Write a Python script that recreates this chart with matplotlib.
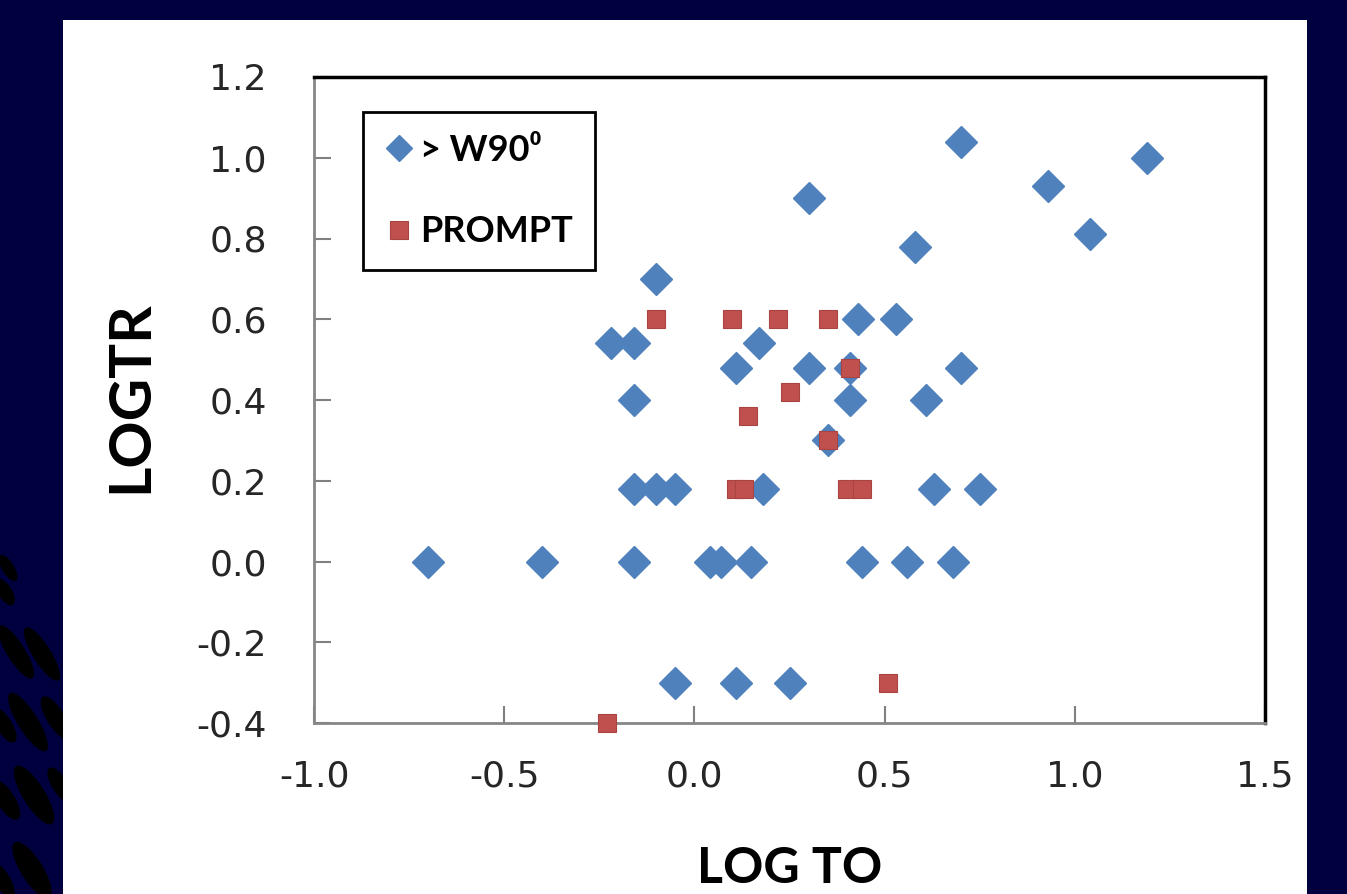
import numpy as np
import matplotlib
matplotlib.use("Agg")
from matplotlib import pyplot as plt
from matplotlib.patches import Rectangle, Ellipse
from matplotlib.font_manager import FontProperties
from matplotlib.ticker import FormatStrFormatter

# "> W90" series (blue diamonds)
w90_x = [0.70, 1.19, 0.93, 0.30, 1.04, 0.58, -0.10,
         0.43, 0.53,
         -0.22, -0.16, 0.17,
         0.11, 0.30, 0.41, 0.70,
         -0.16, 0.41, 0.61,
         0.35,
         -0.16, -0.10, -0.05, 0.18, 0.63, 0.75,
         -0.70, -0.40, -0.16, 0.04, 0.07, 0.15, 0.44, 0.56, 0.68,
         -0.05, 0.11, 0.25]
w90_y = [1.04, 1.00, 0.93, 0.90, 0.81, 0.78, 0.70,
         0.60, 0.60,
         0.54, 0.54, 0.54,
         0.48, 0.48, 0.48, 0.48,
         0.40, 0.40, 0.40,
         0.30,
         0.18, 0.18, 0.18, 0.18, 0.18, 0.18,
         0.00, 0.00, 0.00, 0.00, 0.00, 0.00, 0.00, 0.00, 0.00,
         -0.30, -0.30, -0.30]

# PROMPT series (red squares)
prompt_x = [-0.10, 0.10, 0.22, 0.35, 0.41, 0.25, 0.14, 0.35,
            0.11, 0.13, 0.40, 0.44, 0.51, -0.23]
prompt_y = [0.60, 0.60, 0.60, 0.60, 0.48, 0.42, 0.36, 0.30,
            0.18, 0.18, 0.18, 0.18, -0.30, -0.40]

x_ticks = [-1.0, -0.5, 0.0, 0.5, 1.0, 1.5]
y_ticks = [-0.4, -0.2, 0.0, 0.2, 0.4, 0.6, 0.8, 1.0, 1.2]

plt.rcParams['axes.unicode_minus'] = False

W, H = 1347, 894
navy = '#00003E'
fig = plt.figure(figsize=(W / 100, H / 100), dpi=100)
fig.patch.set_facecolor(navy)

# slide background: navy, black stripes at left, white panel
bg = fig.add_axes([0, 0, 1, 1], zorder=0)
bg.set_xlim(0, W)
bg.set_ylim(H, 0)
bg.axis('off')
stripes = [(8, 568, 30, 12), (5, 592, 30, 14), (16, 652, 62, 18), (42, 654, 62, 18),
           (28, 722, 68, 20), (56, 718, 50, 18), (4, 725, 40, 16),
           (34, 795, 68, 22), (60, 785, 40, 16), (6, 800, 45, 18),
           (32, 870, 65, 22), (2, 880, 40, 16)]
for cx, cy, ln, th in stripes:
    bg.add_patch(Ellipse((cx, cy), ln, th, angle=58, facecolor='black', edgecolor='none'))
bg.add_patch(Rectangle((63, 20), 1244, 874, facecolor='white', edgecolor='none', zorder=3))

ax = fig.add_axes([314 / W, 1 - 723 / H, 951 / W, 646 / H], zorder=2)
ax.set_facecolor('white')
ax.plot(w90_x, w90_y, 'D', ms=16.5, color='#4F81BD', ls='none',
        label='> W90\u2070', clip_on=False, zorder=3)
ax.plot(prompt_x, prompt_y, 's', ms=12.5, color='#C0504D', mec='#A94442', mew=0.8,
        ls='none', label='PROMPT', clip_on=False, zorder=4)

ax.set_xlim(-1.0, 1.5)
ax.set_ylim(-0.4, 1.2)
ax.set_xticks(x_ticks)
ax.set_yticks(y_ticks)
ax.xaxis.set_major_formatter(FormatStrFormatter('%.1f'))
ax.yaxis.set_major_formatter(FormatStrFormatter('%.1f'))
ax.tick_params(direction='in', length=12, width=1.5, color='#808080',
               labelsize=26, labelcolor='#262626')
ax.tick_params(axis='x', pad=26)
ax.tick_params(axis='y', pad=34)

for s in ['left', 'bottom']:
    ax.spines[s].set_color('#868686')
    ax.spines[s].set_linewidth(2)
for s in ['top', 'right']:
    ax.spines[s].set_color('black')
    ax.spines[s].set_linewidth(2.5)

ax.set_xlabel('LOG TO', family=['Lato', 'DejaVu Sans'], weight='bold', size=36)
ax.set_ylabel('LOGTR', family=['Lato', 'DejaVu Sans'], weight='bold', size=42)
ax.xaxis.set_label_coords(0.5, -0.19)
ax.yaxis.set_label_coords(-0.165, 0.505)

leg = ax.legend(loc='upper left', bbox_to_anchor=(0.051, 0.946), frameon=True,
                fancybox=False, edgecolor='black', framealpha=1,
                prop=FontProperties(family=['Lato', 'DejaVu Sans'], weight='bold', size=26),
                handlelength=0.8, handletextpad=0.2, labelspacing=1.35,
                borderpad=0.6, borderaxespad=0)
leg.get_frame().set_linewidth(2)
leg.legend_handles[0].set_markersize(13)
leg.legend_handles[1].set_markersize(12.5)

fig.savefig('out.png', dpi=100, facecolor=fig.get_facecolor())
